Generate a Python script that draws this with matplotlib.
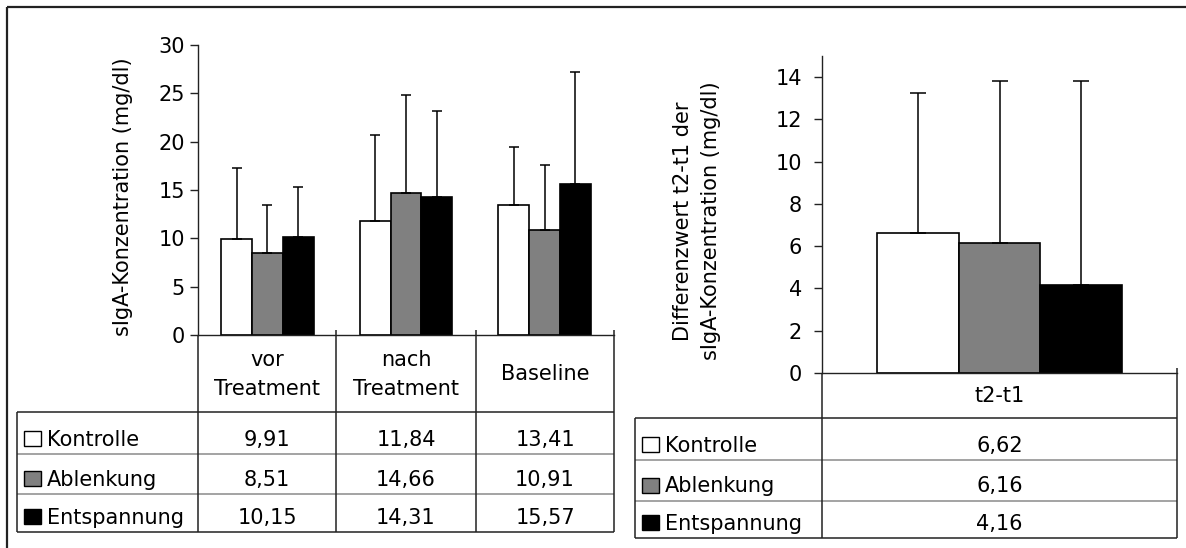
import matplotlib.pyplot as plt
from matplotlib.patches import Rectangle
import numpy as np

plt.rcParams['font.family'] = ['DejaVu Sans']
plt.rcParams['font.size'] = 15

# sIgA-Konzentration je Messzeitpunkt (Mittelwert und SD)
zeitpunkte = ['vor\nTreatment', 'nach\nTreatment', 'Baseline']
gruppen = ['Kontrolle', 'Ablenkung', 'Entspannung']
farben = ['white', '#808080', 'black']

kontrolle = [9.91, 11.84, 13.41]
ablenkung = [8.51, 14.66, 10.91]
entspannung = [10.15, 14.31, 15.57]
kontrolle_sd = [7.4, 8.9, 6.0]
ablenkung_sd = [4.9, 10.2, 6.7]
entspannung_sd = [5.15, 8.9, 11.6]

# Differenzwerte t2-t1
diff_label = ['t2-t1']
diff_werte = [6.62, 6.16, 4.16]
diff_sd = [6.62, 7.65, 9.65]

mittel = [kontrolle, ablenkung, entspannung]
streuung = [kontrolle_sd, ablenkung_sd, entspannung_sd]

W, H = 1186, 548
fig = plt.figure(figsize=(W / 100, H / 100), dpi=100)


def px_axes(x0, y0, x1, y1):
    # axes placed in pixel coordinates (y measured from the top)
    return fig.add_axes([x0 / W, 1 - y1 / H, (x1 - x0) / W, (y1 - y0) / H])


def style_axis(ax, pad):
    for s in ['top', 'right']:
        ax.spines[s].set_visible(False)
    for s in ['left', 'bottom']:
        ax.spines[s].set_color('#222222')
        ax.spines[s].set_linewidth(1.0)
    ax.set_xticks([])
    ax.tick_params(axis='y', length=5.5, width=1, color='#222222', pad=pad, labelsize=15)


# left chart
ax1 = px_axes(198, 45, 614, 335)
x = np.arange(len(zeitpunkte))
w = 0.667 / 3
for i in range(3):
    pos = x + (i - 1) * w
    ax1.bar(pos, mittel[i], w, color=farben[i], edgecolor='black', linewidth=1.2, zorder=2)
    ax1.errorbar(pos, mittel[i], yerr=[np.zeros(3), streuung[i]], fmt='none',
                 ecolor='black', elinewidth=1.1, capsize=3.3, capthick=1.1, zorder=3)
ax1.set_xlim(-0.5, 2.5)
ax1.set_ylim(0, 30)
ax1.set_yticks(np.arange(0, 31, 5))
style_axis(ax1, 4)

# right chart
ax2 = px_axes(822, 56, 1177, 373)
w2 = 0.69 / 3
for i in range(3):
    pos = [(i - 1) * w2]
    ax2.bar(pos, [diff_werte[i]], w2, color=farben[i], edgecolor='black', linewidth=1.2, zorder=2)
    ax2.errorbar(pos, [diff_werte[i]], yerr=[[0], [diff_sd[i]]], fmt='none',
                 ecolor='black', elinewidth=1.1, capsize=5.8, capthick=1.1, zorder=3)
ax2.set_xlim(-0.5, 0.5)
ax2.set_ylim(0, 15)
ax2.set_yticks(np.arange(0, 15, 2))
style_axis(ax2, 9)

# overlay in pixel coordinates for the data tables and labels
ov = fig.add_axes([0, 0, 1, 1], zorder=5)
ov.set_xlim(0, W)
ov.set_ylim(H, 0)
ov.axis('off')
ov.patch.set_alpha(0)

dark = '#222222'
grey = '#8a8a8a'


def line(xs, ys, c=dark, lw=1.1):
    ov.plot(xs, ys, color=c, lw=lw, solid_capstyle='butt')


# outer frame
line([7, 7], [7, H], lw=1.6)
line([7, W], [7, 7], lw=1.6)


def draw_table(x_lab, x_cols, y_axis, y_rows, header, werte):
    # x_cols: column borders, y_rows: top of body, row separators, bottom
    top, bot = y_rows[0], y_rows[-1]
    line([x_lab, x_cols[-1]], [top, top])
    line([x_lab, x_cols[-1]], [bot, bot])
    for yr in y_rows[1:-1]:
        line([x_lab, x_cols[-1]], [yr, yr], c=grey)
    line([x_lab, x_lab], [top, bot])
    line([x_cols[0], x_cols[0]], [y_axis, bot])
    for xc in x_cols[1:]:
        line([xc, xc], [y_axis - 5, bot])
    # header row
    for j, lab in enumerate(header):
        xm = (x_cols[j] + x_cols[j + 1]) / 2
        ov.text(xm, (y_axis + top) / 2 + 1, lab, ha='center', va='center',
                linespacing=1.55, fontsize=15)
    # series rows
    for i, name in enumerate(gruppen):
        base = y_rows[i + 1] - 8.5
        ov.add_patch(Rectangle((x_lab + 7, base - 15), 17, 15.5, facecolor=farben[i],
                               edgecolor='black', lw=1.0))
        ov.text(x_lab + 30, base, name, ha='left', va='baseline', fontsize=15)
        for j in range(len(header)):
            xm = (x_cols[j] + x_cols[j + 1]) / 2
            ov.text(xm, base, f'{werte[i][j]:.2f}'.replace('.', ','),
                    ha='center', va='baseline', fontsize=15)


draw_table(17, [198, 336, 476, 614], 335, [412, 454, 494, 532], zeitpunkte, mittel)
draw_table(635, [822, 1177], 373, [418, 460, 501, 538], diff_label,
           [[v] for v in diff_werte])

ov.text(123, 197, 'sIgA-Konzentration (mg/dl)', rotation=90, ha='center', va='center', fontsize=15)
ov.text(697, 221, 'Differenzwert t2-t1 der\nsIgA-Konzentration (mg/dl)', rotation=90,
        ha='center', va='center', linespacing=1.45, fontsize=15)

fig.savefig('out.png', dpi=100, facecolor='white')
